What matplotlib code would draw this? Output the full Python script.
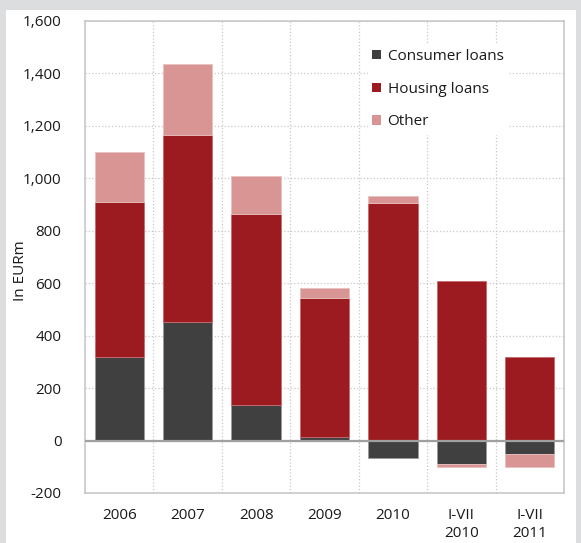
import matplotlib
matplotlib.use('Agg')
from matplotlib import pyplot as plt
from matplotlib.patches import Rectangle, Patch
import numpy as np

categories = ['2006', '2007', '2008', '2009', '2010', 'I-VII\n2010', 'I-VII\n2011']
consumer = [317, 453, 137, 13, -68, -89, -52]
housing = [591, 713, 726, 531, 904, 608, 320]
other = [192, 268, 144, 36, 29, -11, -48]
series_names = ['Consumer loans', 'Housing loans', 'Other']

colors = ['#404040', '#9b1b20', '#d99594']
edges = ['#9a9a9a', '#c96a6c', '#e8c0bf']

plt.rcParams['font.family'] = ['Open Sans', 'DejaVu Sans']

fig = plt.figure(figsize=(5.81, 5.43), dpi=100)
fig.patch.set_facecolor('#dcdddf')
fig.patches.append(Rectangle((6 / 581, 0), 570 / 581, 1 - 10 / 543,
                             transform=fig.transFigure, facecolor='white',
                             edgecolor='none', zorder=-5))

ax = fig.add_axes([85 / 581, 1 - 493 / 543, 479 / 581, (493 - 20.7) / 543])
ax.set_zorder(1)
x = np.arange(len(categories))
pos_bottom = np.zeros(len(categories))
neg_bottom = np.zeros(len(categories))
for vals, col, ec, name in zip([consumer, housing, other], colors, edges, series_names):
    vals = np.array(vals, dtype=float)
    bottoms = np.where(vals >= 0, pos_bottom, neg_bottom)
    ax.bar(x, vals, bottom=bottoms, width=0.72, color=col, edgecolor=ec,
           linewidth=0.6, zorder=3, label=name)
    pos_bottom += np.where(vals >= 0, vals, 0)
    neg_bottom += np.where(vals < 0, vals, 0)

ax.set_xlim(-0.5, len(categories) - 0.5)
ax.set_ylim(-200, 1600)
ax.set_yticks(range(-200, 1601, 200))
ax.set_yticklabels(['{:,}'.format(v) for v in range(-200, 1601, 200)])
ax.set_xticks(x)
ax.set_xticklabels(categories)
ax.tick_params(axis='both', length=0, labelsize=11, colors='#1a1a1a')
ax.tick_params(axis='y', pad=17)
ax.tick_params(axis='x', pad=11)
for lbl in ax.get_xticklabels():
    lbl.set_linespacing(1.25)

ax.set_xticks(np.arange(0.5, len(categories) - 1, 1), minor=True)
ax.tick_params(axis='x', which='minor', length=0)
ax.grid(axis='y', which='major', color='#c8c8c8', linestyle=':', linewidth=0.9, zorder=1)
ax.grid(axis='x', which='minor', color='#c8c8c8', linestyle=':', linewidth=0.9, zorder=1)
ax.grid(axis='x', which='major', visible=False)
ax.axhline(0, color='#a0a0a0', linewidth=1.6, zorder=4)
for s in ax.spines.values():
    s.set_color('#c8c8c8')
    s.set_linewidth(1.2)

ax.set_ylabel('In EURm', fontsize=11, color='#1a1a1a')
ax.yaxis.set_label_coords((28 - 85) / 479, 0.47)

handles = [Patch(facecolor=c, edgecolor='none') for c in colors]
leg = ax.legend(handles, series_names, loc='upper left',
                bbox_to_anchor=((360 - 85) / 479, 1 - (37 - 20.7) / 472.3),
                fontsize=11, frameon=True, fancybox=False, framealpha=1,
                edgecolor='white', handlelength=0.55, handleheight=0.55,
                handletextpad=0.45, labelspacing=1.15, borderpad=0.3)
leg.set_zorder(5)
for t in leg.get_texts():
    t.set_color('#1a1a1a')

plt.savefig('out.png', dpi=100, facecolor=fig.get_facecolor())
